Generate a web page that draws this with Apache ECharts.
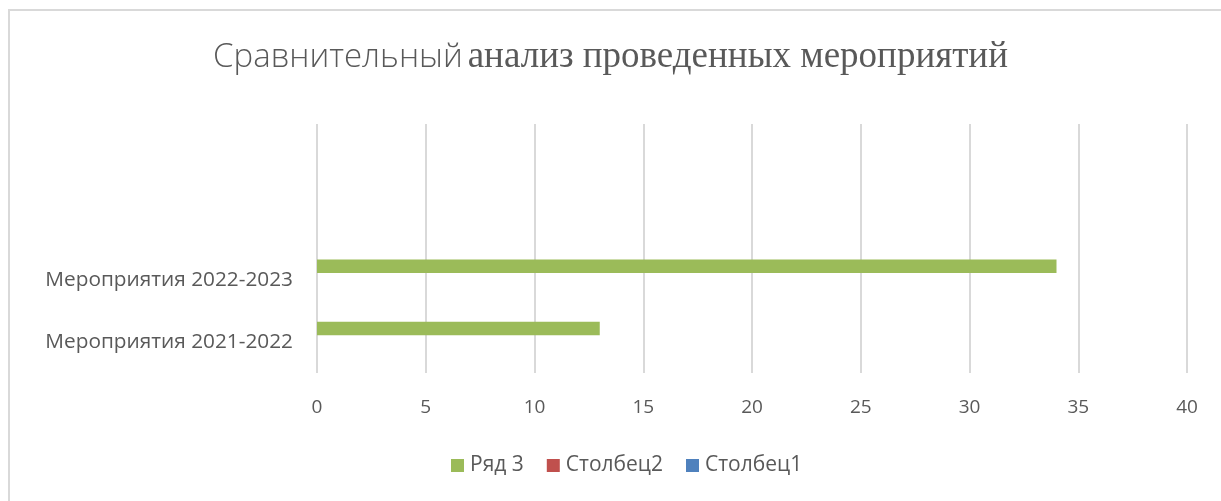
<!DOCTYPE html>
<html><head><meta charset="utf-8">
<script src="https://cdn.jsdelivr.net/npm/echarts@6/dist/echarts.min.js"></script>
<style>html,body{margin:0;padding:0;background:#fff}#c{width:1221px;height:501px}</style>
</head><body><div id="c"></div>
<script>
const categories = ['Мероприятия 2021-2022', 'Мероприятия 2022-2023', '', ''];
const ryad3 = [13, 34, null, null];
const stolbets2 = [null, null, null, null];
const stolbets1 = [null, null, null, null];
const xTicks = {min: 0, max: 40, interval: 5};

const chart = echarts.init(document.getElementById('c'), null, {renderer: 'canvas'});
const txt = '#595959';
const font = '"Open Sans", "Noto Sans", sans-serif';
chart.setOption({
  animation: false,
  backgroundColor: '#fff',
  graphic: [{type: 'rect', shape: {x: 9, y: 10, width: 1400, height: 700}, style: {fill: 'none', stroke: '#d9d9d9', lineWidth: 2}}],
  title: {
    text: '{a|Сравнительный} {b|анализ проведенных мероприятий}',
    left: 'center', top: 34,
    textStyle: {fontWeight: 'normal', rich: {
      a: {fontFamily: font, fontSize: 33, color: txt, fontWeight: 300},
      b: {fontFamily: '"Liberation Serif", "DejaVu Serif", serif', fontSize: 37, color: txt, fontWeight: 'normal'}
    }}
  },
  legend: {
    bottom: 20, left: 446, itemWidth: 13, itemHeight: 13, itemGap: 23,
    icon: 'rect',
    data: ['Ряд 3', 'Столбец2', 'Столбец1'],
    textStyle: {fontFamily: font, fontSize: 21, color: txt, padding: [0, 0, 0, 1]}
  },
  grid: {left: 317, right: 34, top: 124, bottom: 128},
  xAxis: {
    type: 'value', min: xTicks.min, max: xTicks.max, interval: xTicks.interval,
    axisLine: {show: false}, axisTick: {show: false},
    axisLabel: {fontFamily: font, fontSize: 19, color: txt, margin: 25},
    splitLine: {lineStyle: {color: '#d9d9d9', width: 2}}
  },
  yAxis: {
    type: 'category', data: categories,
    axisLine: {show: false}, axisTick: {show: false},
    axisLabel: {fontFamily: font, fontSize: 20.8, color: txt, margin: 24, padding: [5, 0, 0, 0]}
  },
  series: [
    {name: 'Ряд 3', type: 'bar', data: ryad3, itemStyle: {color: '#9bbb59'}, barWidth: 13.5, barGap: '0%', barCategoryGap: '0%'},
    {name: 'Столбец2', type: 'bar', data: stolbets2, itemStyle: {color: '#c0504d'}, barWidth: 13.5},
    {name: 'Столбец1', type: 'bar', data: stolbets1, itemStyle: {color: '#4f81bd'}, barWidth: 13.5}
  ]
});
</script></body></html>
